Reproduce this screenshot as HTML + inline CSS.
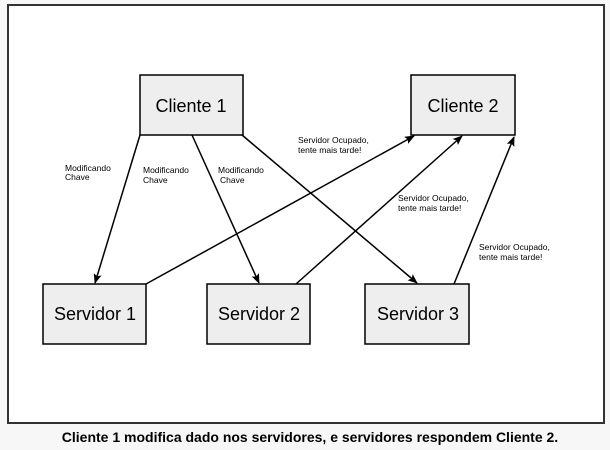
<!DOCTYPE html>
<html><head><meta charset="utf-8"><style>
html,body{margin:0;padding:0;background:#fff;}
body{width:610px;height:450px;overflow:hidden;font-family:"Liberation Sans",sans-serif;}
</style></head><body>
<svg width="610" height="450" xmlns="http://www.w3.org/2000/svg" style="position:absolute;left:0;top:0">
<defs><marker id="a" markerWidth="10" markerHeight="8" refX="9" refY="4" orient="auto" markerUnits="userSpaceOnUse"><path d="M0,0 L10,4 L0,8 L2,4 Z" fill="#000"/></marker></defs>
<rect x="0" y="0" width="610" height="450" fill="#f7f7f7"/>
<rect x="8" y="5" width="596" height="418" fill="#fff" stroke="#333" stroke-width="2"/>
<g fill="#eeeeee" stroke="#000" stroke-width="1.5">
<rect x="140" y="75" width="103" height="60"/>
<rect x="411" y="75" width="104" height="60"/>
<rect x="43" y="284" width="103" height="60"/>
<rect x="207" y="284" width="103" height="60"/>
<rect x="365" y="284" width="104" height="60"/>
</g>
<g stroke="#000" stroke-width="1.5" fill="none" marker-end="url(#a)">
<line x1="140" y1="135" x2="95" y2="283"/>
<line x1="192" y1="135" x2="259" y2="283"/>
<line x1="242" y1="135" x2="417" y2="283"/>
<line x1="146" y1="284" x2="414" y2="136"/>
<line x1="296" y1="284" x2="462" y2="136"/>
<line x1="454" y1="284" x2="514" y2="137"/>
</g>
<g font-size="18" text-anchor="middle" fill="#000">
<text x="191" y="112">Cliente 1</text>
<text x="463" y="112">Cliente 2</text>
<text x="95" y="320">Servidor 1</text>
<text x="259" y="320">Servidor 2</text>
<text x="418" y="320">Servidor 3</text>
</g>
<g font-size="8.5" fill="#000">
<text x="65" y="171">Modificando</text><text x="65" y="180">Chave</text>
<text x="143" y="173">Modificando</text><text x="143" y="183">Chave</text>
<text x="218" y="173">Modificando</text><text x="220" y="183">Chave</text>
<text x="298" y="143">Servidor Ocupado,</text><text x="298" y="153">tente mais tarde!</text>
<text x="398" y="201">Servidor Ocupado,</text><text x="398" y="211">tente mais tarde!</text>
<text x="479" y="250">Servidor Ocupado,</text><text x="479" y="260">tente mais tarde!</text>
</g>
<text x="310" y="442" font-size="14" font-weight="bold" text-anchor="middle" fill="#000">Cliente 1 modifica dado nos servidores, e servidores respondem Cliente 2.</text>
</svg>
</body></html>
